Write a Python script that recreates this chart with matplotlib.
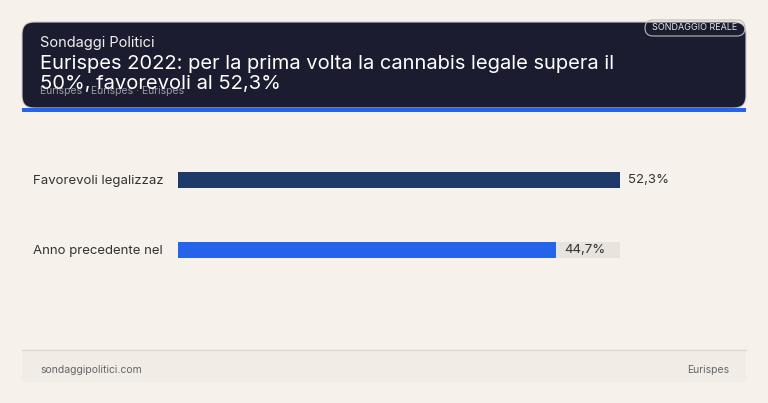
import matplotlib
matplotlib.use("Agg")
import matplotlib.pyplot as plt
from matplotlib.patches import FancyBboxPatch, Rectangle

labels = ["Favorevoli legalizzaz", "Anno precedente nel"]
values = [52.3, 44.7]
value_text = ["52,3%", "44,7%"]
colors = ["#1e3a6b", "#2563eb"]

W, H = 768, 403
BG = "#f6f1eb"
plt.rcParams["font.family"] = ["Inter", "DejaVu Sans"]

fig = plt.figure(figsize=(W / 100, H / 100), dpi=100, facecolor=BG)
bg = fig.add_axes([0, 0, 1, 1])
bg.set_xlim(0, W)
bg.set_ylim(H, 0)
bg.axis("off")

# header card
bg.add_patch(FancyBboxPatch((22, 22), 724, 86, boxstyle="round,pad=0,rounding_size=12",
                            fc="#1b1c2f", ec="#cfcfcf", lw=0.8))
bg.add_patch(Rectangle((22, 108), 724, 4, fc="#2563eb", ec="none"))
bg.add_patch(FancyBboxPatch((645, 20), 100, 16, boxstyle="round,pad=0,rounding_size=8",
                            fc="none", ec="#bbbbbb", lw=0.8))
bg.text(737, 28, "SONDAGGIO REALE", color="#e6e6e6", fontsize=6.5, ha="right", va="center")
bg.text(40, 43, "Sondaggi Politici", color="#f0f0f0", fontsize=10.5, va="center")
bg.text(40, 91, "Eurispes · Eurispes · Eurispes", color="#9a9aa6", fontsize=7.5, va="center")
bg.text(40, 64, "Eurispes 2022: per la prima volta la cannabis legale supera il",
        color="white", fontsize=14.5, va="center")
bg.text(40, 84, "50%, favorevoli al 52,3%", color="white", fontsize=14.5, va="center")

# footer
bg.add_patch(Rectangle((22, 350), 724, 32, fc="#f1ece6", ec="none"))
bg.plot([22, 746], [350, 350], color="#dcd6cf", lw=1)
bg.text(40, 370, "sondaggipolitici.com", color="#666666", fontsize=7.5, va="center")
bg.text(729, 370, "Eurispes", color="#666666", fontsize=7.5, va="center", ha="right")

# bars
ax = fig.add_axes([178 / W, 1 - 285 / H, (620 - 178) / W, 140 / H])
ax.set_facecolor("none")
ymax = max(values)
ypos = [0, 1]
ax.barh(ypos, [ymax] * len(values), height=0.23, color="#e8e3dd")
ax.barh(ypos, values, height=0.23, color=colors)
for y, v, t in zip(ypos, values, value_text):
    ax.text(v + 1.0, y, t, ha="left", va="center", fontsize=9.5, color="#333333")
ax.set_xlim(0, ymax)
ax.set_ylim(1.5, -0.5)
ax.axis("off")
for lab, yp in zip(labels, [181, 251]):
    bg.text(33, yp, lab, ha="left", va="center", fontsize=9.5, color="#333333")

fig.savefig("out.png", dpi=100, facecolor=BG)
